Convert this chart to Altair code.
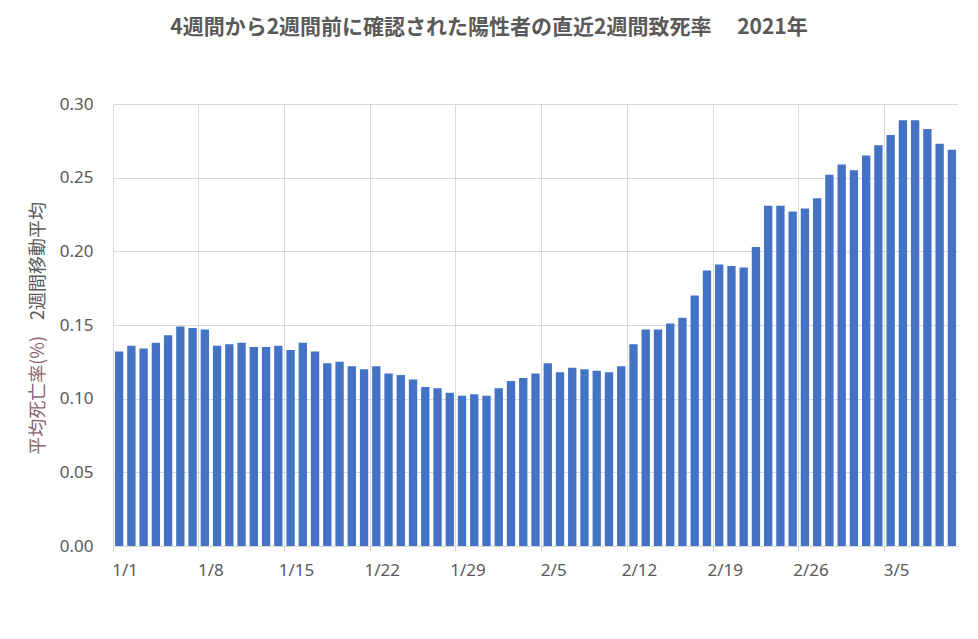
import altair as alt
import pandas as pd

# ---- data ----
jan = [0.132, 0.136, 0.134, 0.138, 0.143, 0.149, 0.148, 0.147, 0.136, 0.137,
       0.138, 0.135, 0.135, 0.136, 0.133, 0.138, 0.132, 0.124, 0.125, 0.122,
       0.120, 0.122, 0.117, 0.116, 0.113, 0.108, 0.107, 0.104, 0.102, 0.103,
       0.102]
feb = [0.107, 0.112, 0.114, 0.117, 0.124, 0.118, 0.121, 0.120, 0.119, 0.118,
       0.122, 0.137, 0.147, 0.147, 0.151, 0.155, 0.170, 0.187, 0.191, 0.190,
       0.189, 0.203, 0.231, 0.231, 0.227, 0.229, 0.236, 0.252]
mar = [0.259, 0.255, 0.265, 0.272, 0.279, 0.289, 0.289, 0.283, 0.273, 0.269]

dates = ([f"1/{d}" for d in range(1, 32)] +
         [f"2/{d}" for d in range(1, 29)] +
         [f"3/{d}" for d in range(1, 11)])
values = jan + feb + mar

tick_labels = ["1/1", "1/8", "1/15", "1/22", "1/29", "2/5", "2/12", "2/19", "2/26", "3/5"]
y_ticks = [0.0, 0.05, 0.10, 0.15, 0.20, 0.25, 0.30]

title_text = "4週間から2週間前に確認された陽性者の直近2週間致死率　 2021年"
ytitle_a = "平均死亡率(%)"
ytitle_b = "2週間移動平均"

df = pd.DataFrame({"date": dates, "rate": values})

W, H = 845, 442
CJK = "Noto Sans CJK JP"
LAT = "Noto Sans"
GRAY = "#595959"
GRID = "#d9d9d9"

bars = alt.Chart(df).mark_bar(color="#4472C4", width=alt.RelativeBandSize(0.68)).encode(
    x=alt.X("date:O", sort=dates,
            scale=alt.Scale(paddingInner=0, paddingOuter=0),
            axis=alt.Axis(values=tick_labels, title=None, labelAngle=0,
                          bandPosition=0, labelOffset=6,
                          grid=True, gridColor=GRID, gridWidth=1,
                          domain=True, domainColor=GRID, domainWidth=1,
                          ticks=True, tickColor=GRID, tickSize=5, tickWidth=1,
                          labelFont=LAT, labelFontSize=17, labelColor=GRAY,
                          labelPadding=11)),
    y=alt.Y("rate:Q",
            scale=alt.Scale(domain=[0, 0.3], nice=False, zero=True),
            axis=alt.Axis(values=y_ticks, format=".2f", title=None,
                          grid=True, gridColor=GRID, gridWidth=1,
                          domain=False, ticks=False, tickSize=0,
                          labelFont=LAT, labelFontSize=17, labelColor=GRAY,
                          labelPadding=20)),
)

title = alt.Chart(pd.DataFrame({"t": [title_text]})).mark_text(
    font=CJK, fontSize=21, fontWeight="bold", color=GRAY,
    align="center", baseline="middle"
).encode(text="t:N", x=alt.value(376), y=alt.value(-76))

ya = alt.Chart(pd.DataFrame({"t": [ytitle_a]})).mark_text(
    font=CJK, fontSize=18, color="#8a6470", angle=270,
    align="right", baseline="middle"
).encode(text="t:N", x=alt.value(-74), y=alt.value(232))

yb = alt.Chart(pd.DataFrame({"t": [ytitle_b]})).mark_text(
    font=CJK, fontSize=18, color=GRAY, angle=270,
    align="left", baseline="middle"
).encode(text="t:N", x=alt.value(-74), y=alt.value(216))

chart = alt.layer(bars, title, ya, yb).properties(
    width=W, height=H,
    autosize=alt.AutoSizeParams(type="none"),
    padding={"left": 105, "top": 96, "right": 12, "bottom": 85},
    background="white",
).configure_view(strokeWidth=0)

chart.save("out.html", embed_options={"renderer": "svg", "actions": False})
